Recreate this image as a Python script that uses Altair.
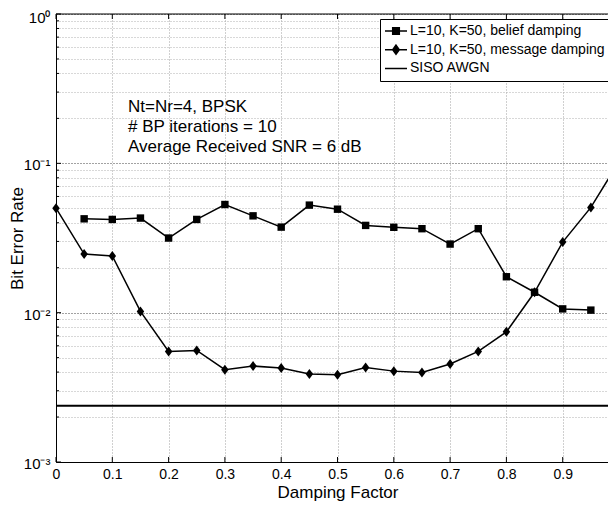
import altair as alt
import pandas as pd

FONT = "Liberation Sans"

# ---------------- data ----------------
belief_damping = [0.05, 0.10, 0.15, 0.20, 0.25, 0.30, 0.35, 0.40, 0.45, 0.50,
                  0.55, 0.60, 0.65, 0.70, 0.75, 0.80, 0.85, 0.90, 0.95]
belief_ber = [0.0425, 0.0421, 0.0430, 0.0316, 0.0421, 0.0530, 0.0445, 0.0374, 0.0525, 0.0493,
              0.0384, 0.0373, 0.0365, 0.0288, 0.0365, 0.0174, 0.0137, 0.0106, 0.0104]

message_damping = [0.00, 0.05, 0.10, 0.15, 0.20, 0.25, 0.30, 0.35, 0.40, 0.45, 0.50,
                   0.55, 0.60, 0.65, 0.70, 0.75, 0.80, 0.85, 0.90, 0.95, 1.00]
message_ber = [0.0501, 0.0247, 0.0240, 0.0102, 0.0055, 0.00558, 0.00415, 0.00439, 0.00426, 0.00388, 0.00384,
               0.00430, 0.00406, 0.00398, 0.00453, 0.0055, 0.00744, 0.0137, 0.0297, 0.0507, 0.1026]

siso_awgn_ber = [0.00238]

series_names = ["L=10, K=50, belief damping", "L=10, K=50, message damping", "SISO AWGN"]

x_tick_values = [0, 0.1, 0.2, 0.3, 0.4, 0.5, 0.6, 0.7, 0.8, 0.9]
y_major_values = [0.001, 0.01, 0.1, 1]
y_major_labels = ["10\u207b\u00b3", "10\u207b\u00b2", "10\u207b\u00b9", "10\u2070"]
y_minor_values = [0.002, 0.003, 0.004, 0.005, 0.006, 0.007, 0.008, 0.009,
                  0.02, 0.03, 0.04, 0.05, 0.06, 0.07, 0.08, 0.09,
                  0.2, 0.3, 0.4, 0.5, 0.6, 0.7, 0.8, 0.9]

annotation_lines = ["Nt=Nr=4, BPSK", "# BP iterations = 10", "Average Received SNR = 6 dB"]
annotation_x = [0.128, 0.128, 0.128]
annotation_y = [0.221, 0.1626, 0.1197]

# ---------------- layout ----------------
W, H = 552, 448
X_MAX = 552 / 563  # the reference's right edge (x = 1) lies just outside the picture

xs = alt.Scale(domain=[0, X_MAX], nice=False, zero=False)
ys = alt.Scale(type="log", domain=[0.001, 1], nice=False)

label_expr = " : ".join(
    f"datum.value == {v} ? '{t}'" for v, t in zip(y_major_values, y_major_labels)
) + " : ''"
major_test = "abs(log(datum.value)/LN10 - round(log(datum.value)/LN10)) < 0.001"

x_axis = alt.Axis(
    values=x_tick_values, format="~g", title="Damping Factor",
    grid=True, gridColor="#a0a0a0", gridDash=[1, 2], gridWidth=1,
    ticks=False, tickSize=0, labelPadding=5, labelFlush=False,
    labelFont=FONT, labelFontSize=14, labelColor="black",
    domainColor="black", domainWidth=1,
    titleFont=FONT, titleFontSize=17, titleFontWeight="normal", titleColor="black",
    titleX=281.5, titleY=35, titleBaseline="alphabetic",
)
y_axis = alt.Axis(
    values=sorted(y_major_values + y_minor_values), labelExpr=label_expr,
    title="Bit Error Rate", labelOverlap=False,
    grid=True, gridDash=[1, 2], gridWidth=1,
    gridColor={"condition": {"test": major_test, "value": "#444444"}, "value": "#b0b0b0"},
    ticks=False, tickSize=0, labelPadding=6,
    labelOffset={"condition": {"test": "datum.value == 1", "value": 3.5}, "value": 1.5},
    labelFont=FONT, labelFontSize=15, labelColor="black",
    domainColor="black", domainWidth=1,
    titleFont=FONT, titleFontSize=17, titleFontWeight="normal", titleColor="black",
    titleAngle=270, titleX=-34, titleY=H / 2, titleBaseline="alphabetic", titleAlign="center",
)

def X(field="x"):
    return alt.X(f"{field}:Q", scale=xs, axis=x_axis)

def Y(field="y"):
    return alt.Y(f"{field}:Q", scale=ys, axis=y_axis)

belief_df = pd.DataFrame({"x": belief_damping, "y": belief_ber})
message_df = pd.DataFrame({"x": message_damping, "y": message_ber})
siso_df = pd.DataFrame({"y": siso_awgn_ber})
legend_df = pd.DataFrame({"x": [0.5] * 3, "y": [0.01] * 3, "series": series_names})
xt_df = pd.DataFrame({"x": x_tick_values})
ymaj_df = pd.DataFrame({"y": y_major_values})
ymin_df = pd.DataFrame({"y": y_minor_values})
top_df = pd.DataFrame({"y": [1.0]})
ann_df = pd.DataFrame({"x": annotation_x, "y": annotation_y, "t": annotation_lines})

DIAMOND = "M0,-1L0.75,0L0,1L-0.75,0Z"
LEG_SQUARE = "M-1,0L1,0M-0.3,-0.3L0.3,-0.3L0.3,0.3L-0.3,0.3Z"
LEG_DIAMOND = "M-1,0L1,0M0,-0.42L0.3,0L0,0.42L-0.3,0Z"
LEG_LINE = "M-1,0L1,0"

siso = alt.Chart(siso_df).mark_rule(color="black", strokeWidth=2).encode(y=Y())
top_border = alt.Chart(top_df).mark_rule(color="black", strokeWidth=1).encode(y=Y())

belief_line = alt.Chart(belief_df).mark_line(color="black", strokeWidth=1.5, clip=True).encode(x=X(), y=Y())
belief_pts = alt.Chart(belief_df).mark_point(
    shape="square", filled=True, size=55, color="black", opacity=1
).encode(x=X(), y=Y())

message_line = alt.Chart(message_df).mark_line(color="black", strokeWidth=1.5, clip=True).encode(x=X(), y=Y())
message_pts = alt.Chart(message_df).transform_filter(f"datum.x <= {X_MAX}").mark_point(
    shape=DIAMOND, filled=True, size=100, color="black", opacity=1
).encode(x=X(), y=Y())

bottom_ticks = alt.Chart(xt_df).mark_rule(color="black").encode(
    x=X(), y=alt.value(H), y2=alt.value(H - 5))
top_ticks = alt.Chart(xt_df).mark_rule(color="black").encode(
    x=X(), y=alt.value(0), y2=alt.value(5))
left_major = alt.Chart(ymaj_df).mark_rule(color="black").encode(
    y=Y(), x=alt.value(0), x2=alt.value(5))
left_minor = alt.Chart(ymin_df).mark_rule(color="black").encode(
    y=Y(), x=alt.value(0), x2=alt.value(3))

annotation = alt.Chart(ann_df).mark_text(
    align="left", baseline="alphabetic", font=FONT, fontSize=17, color="black"
).encode(x=X(), y=Y(), text="t:N")

legend_layer = alt.Chart(legend_df).mark_point(
    filled=False, fill="black", stroke="black", strokeWidth=1.5, opacity=1
).encode(
    x=X(), y=Y(),
    shape=alt.Shape(
        "series:N",
        scale=alt.Scale(domain=series_names, range=[LEG_SQUARE, LEG_DIAMOND, LEG_LINE]),
        legend=alt.Legend(
            title=None, orient="none", legendX=324, legendY=5, direction="vertical",
            strokeColor="black", fillColor="white", padding=4, cornerRadius=0,
            labelFont=FONT, labelFontSize=14, labelColor="black", labelLimit=400, labelOffset=2,
            symbolSize=484, symbolStrokeWidth=1.5, symbolOpacity=1,
            clipHeight=16, rowPadding=2.7,
        ),
    ),
).transform_filter("false")

chart = alt.layer(
    siso, belief_line, message_line, belief_pts, message_pts,
    bottom_ticks, top_ticks, left_major, left_minor, top_border,
    annotation, legend_layer,
).properties(
    width=W, height=H,
    autosize=alt.AutoSizeParams(type="none"),
    padding={"left": 48, "top": 6, "right": 0, "bottom": 39},
    background="white",
).configure_view(stroke=None)

chart.save("out.html", embed_options={"renderer": "svg", "actions": False})
